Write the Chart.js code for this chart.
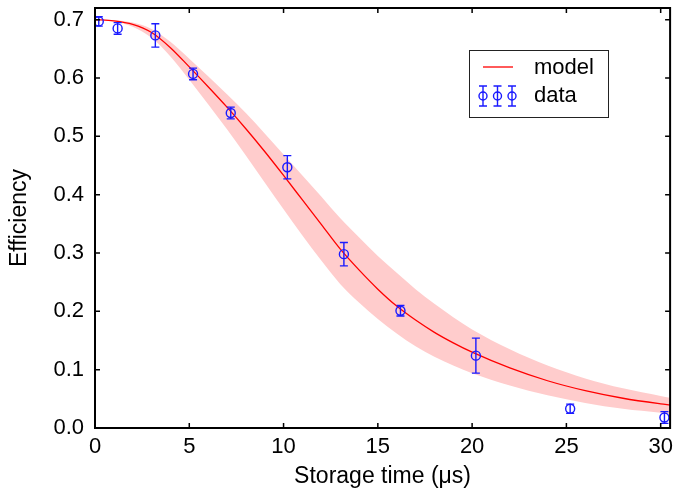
<!DOCTYPE html>
<html>
<head>
<meta charset="utf-8">
<script src="https://cdn.jsdelivr.net/npm/chart.js@4/dist/chart.umd.min.js"></script>
<style>
  html, body { margin: 0; padding: 0; background: #fff; }
</style>
</head>
<body>
<canvas id="effChart" width="676" height="491"></canvas>
<script>
// measured efficiency vs storage time
const dataT   = [0.2, 1.2, 3.2, 5.2, 7.2, 10.2, 13.2, 16.2, 20.2, 25.2, 30.2];
const dataEff = [0.697, 0.685, 0.673, 0.607, 0.540, 0.447, 0.298, 0.201, 0.124, 0.033, 0.018];
const dataErr = [0.008, 0.010, 0.020, 0.010, 0.010, 0.020, 0.020, 0.009, 0.030, 0.008, 0.010];

// model curve with its uncertainty band
const modelT   = [0, 1, 2, 3, 4, 5, 6, 7, 8, 9, 10, 11, 12, 13, 14, 15, 16, 17, 18, 19, 20, 22, 24, 26, 28, 30, 30.5];
const modelEff = [0.700, 0.698, 0.692, 0.678, 0.652, 0.619, 0.585, 0.550, 0.513, 0.474, 0.433, 0.391, 0.349, 0.307, 0.271, 0.238, 0.209, 0.185, 0.164, 0.146, 0.130, 0.103, 0.081, 0.064, 0.051, 0.0414, 0.0394];
const bandHi   = [0.700, 0.699, 0.695, 0.684, 0.662, 0.633, 0.603, 0.572, 0.540, 0.505, 0.469, 0.433, 0.397, 0.360, 0.327, 0.295, 0.266, 0.238, 0.213, 0.190, 0.169, 0.135, 0.107, 0.085, 0.068, 0.055, 0.052];
const bandLo   = [0.700, 0.697, 0.688, 0.669, 0.637, 0.597, 0.555, 0.512, 0.467, 0.421, 0.375, 0.330, 0.287, 0.247, 0.215, 0.187, 0.162, 0.140, 0.122, 0.107, 0.094, 0.073, 0.056, 0.043, 0.033, 0.026, 0.024];

const xTicks = [0, 5, 10, 15, 20, 25, 30];
const yTicks = [0, 0.1, 0.2, 0.3, 0.4, 0.5, 0.6, 0.7];

const dataColor = '#1a1aff';
const modelColor = '#ff0000';
const bandColor = '#ffcccc';
const FONT = "'Liberation Sans', Arial, Helvetica, sans-serif";

const pts = (xs, ys) => xs.map((v, i) => ({ x: v, y: ys[i] }));

function errorBar(ctx, px, top, bot, cap) {
  ctx.beginPath();
  ctx.moveTo(px, top); ctx.lineTo(px, bot);
  ctx.moveTo(px - cap, top); ctx.lineTo(px + cap, top);
  ctx.moveTo(px - cap, bot); ctx.lineTo(px + cap, bot);
  ctx.stroke();
}

// error bars, boxed axes with inward ticks, and the legend
const framePlugin = {
  id: 'frame',
  afterDatasetsDraw(chart) {
    const { ctx, chartArea: a, scales: { x, y } } = chart;
    ctx.save();
    ctx.strokeStyle = dataColor;
    ctx.lineWidth = 1.4;
    dataT.forEach((t, i) => {
      const px = x.getPixelForValue(t);
      errorBar(ctx, px, y.getPixelForValue(dataEff[i] + dataErr[i]),
               y.getPixelForValue(dataEff[i] - dataErr[i]), 4);
    });

    ctx.strokeStyle = '#000';
    ctx.lineWidth = 1.5;
    ctx.beginPath();
    xTicks.forEach(v => {
      const px = x.getPixelForValue(v);
      ctx.moveTo(px, a.bottom); ctx.lineTo(px, a.bottom - 5);
      ctx.moveTo(px, a.top); ctx.lineTo(px, a.top + 5);
    });
    yTicks.forEach(v => {
      const py = y.getPixelForValue(v);
      ctx.moveTo(a.left, py); ctx.lineTo(a.left + 5, py);
      ctx.moveTo(a.right, py); ctx.lineTo(a.right - 5, py);
    });
    ctx.stroke();
    ctx.lineWidth = 2;
    ctx.strokeRect(a.left, a.top, a.right - a.left, a.bottom - a.top);

    // legend box
    const lx = a.left + 374, ly = a.top + 42, lw = 139, lh = 67;
    ctx.fillStyle = '#fff';
    ctx.fillRect(lx, ly, lw, lh);
    ctx.lineWidth = 1;
    ctx.strokeStyle = '#222';
    ctx.strokeRect(lx + 0.5, ly + 0.5, lw, lh);

    ctx.strokeStyle = modelColor;
    ctx.lineWidth = 1.3;
    ctx.beginPath();
    ctx.moveTo(lx + 14, ly + 17); ctx.lineTo(lx + 44, ly + 17);
    ctx.stroke();

    ctx.strokeStyle = dataColor;
    ctx.lineWidth = 1.4;
    [14, 28.5, 43].forEach(dx => {
      const cx = lx + dx, cy = ly + 46;
      errorBar(ctx, cx, cy - 10, cy + 10, 4);
      ctx.beginPath();
      ctx.arc(cx, cy, 4, 0, Math.PI * 2);
      ctx.stroke();
    });

    ctx.fillStyle = '#000';
    ctx.font = '22px ' + FONT;
    ctx.textBaseline = 'middle';
    ctx.textAlign = 'left';
    ctx.fillText('model', lx + 65, ly + 18);
    ctx.fillText('data', lx + 65, ly + 46);
    ctx.restore();
  }
};

new Chart(document.getElementById('effChart'), {
  type: 'scatter',
  data: {
    datasets: [
      {
        label: 'data',
        data: pts(dataT, dataEff),
        showLine: false,
        pointStyle: 'circle',
        pointRadius: 4.5,
        pointBorderWidth: 1.4,
        pointBorderColor: dataColor,
        pointBackgroundColor: 'rgba(0,0,0,0)',
        order: 0
      },
      {
        label: 'model',
        type: 'line',
        data: pts(modelT, modelEff),
        borderColor: modelColor,
        borderWidth: 1.3,
        pointRadius: 0,
        fill: false,
        cubicInterpolationMode: 'monotone',
        order: 1
      },
      {
        label: 'upper',
        type: 'line',
        data: pts(modelT, bandHi),
        borderWidth: 0,
        borderColor: 'rgba(0,0,0,0)',
        backgroundColor: bandColor,
        pointRadius: 0,
        fill: '+1',
        cubicInterpolationMode: 'monotone',
        order: 2
      },
      {
        label: 'lower',
        type: 'line',
        data: pts(modelT, bandLo),
        borderWidth: 0,
        borderColor: 'rgba(0,0,0,0)',
        pointRadius: 0,
        fill: false,
        cubicInterpolationMode: 'monotone',
        order: 3
      }
    ]
  },
  options: {
    responsive: false,
    animation: false,
    devicePixelRatio: 1,
    layout: { padding: { top: 8, right: 4, left: 0, bottom: 0 } },
    plugins: {
      legend: { display: false },
      tooltip: { enabled: false }
    },
    scales: {
      x: {
        type: 'linear',
        min: 0,
        max: 30.5,
        afterBuildTicks: s => { s.ticks = xTicks.map(v => ({ value: v })); },
        afterFit: s => { s.height = 63; s.paddingLeft = 0; s.paddingRight = 0; },
        grid: { display: false, drawTicks: false },
        border: { display: false },
        ticks: {
          color: '#000',
          padding: 6,
          maxRotation: 0,
          font: { family: FONT, size: 22 },
          callback: v => String(v)
        },
        title: {
          display: true,
          text: 'Storage time (μs)',
          color: '#000',
          padding: { top: 0, bottom: 1 },
          font: { family: FONT, size: 23 }
        }
      },
      y: {
        type: 'linear',
        min: 0,
        max: 0.72,
        afterBuildTicks: s => { s.ticks = yTicks.map(v => ({ value: v })); },
        afterFit: s => { s.width = 95; s.paddingTop = 0; s.paddingBottom = 0; },
        grid: { display: false, drawTicks: false },
        border: { display: false },
        ticks: {
          color: '#000',
          padding: 11,
          font: { family: FONT, size: 22 },
          callback: v => v.toFixed(1)
        },
        title: {
          display: true,
          text: 'Efficiency',
          color: '#000',
          padding: { top: 6, bottom: 0 },
          font: { family: FONT, size: 23 }
        }
      }
    }
  },
  plugins: [framePlugin]
});
</script>
</body>
</html>
